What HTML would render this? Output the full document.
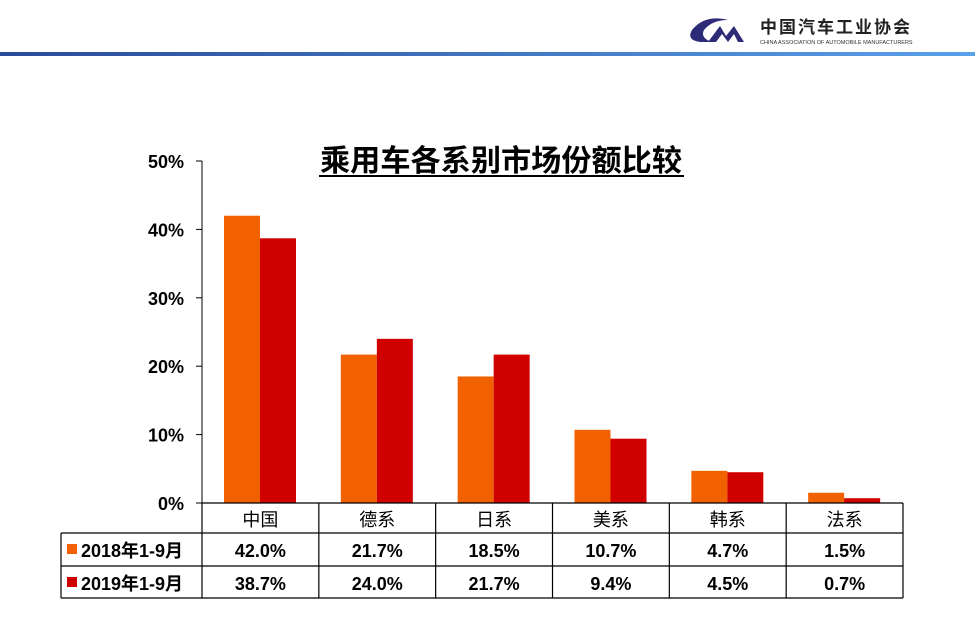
<!DOCTYPE html>
<html><head><meta charset="utf-8"><style>
body{margin:0;background:#fff;}
svg text{font-family:"Liberation Sans","Noto Sans CJK SC",sans-serif;}
</style></head><body>
<svg width="975" height="632" viewBox="0 0 975 632" xmlns="http://www.w3.org/2000/svg">
<defs><linearGradient id="hg" x1="0" x2="1"><stop offset="0" stop-color="#2a4a9a"/><stop offset="1" stop-color="#5aa0e8"/></linearGradient></defs>
<g>
<rect x="0" y="52" width="975" height="4" fill="url(#hg)"/>
<g>
<path d="M728 20 Q705 14 692 30 Q686 40 700 42 L712 42 Q700 38 704 30 Q712 20 728 20 Z" fill="#2d2a78"/>
<path d="M708 42 L720 26 L726 36 L734 26 L744 42 L738 42 L734 34 L728 42 L722 34 L716 42 Z" fill="#2d2a78"/>
<text x="760" y="33" font-size="17" font-weight="bold" fill="#222" letter-spacing="2">中国汽车工业协会</text>
<text x="760" y="44" font-size="5.5" fill="#333">CHINA ASSOCIATION OF AUTOMOBILE MANUFACTURERS</text>
</g></g>
<text x="501" y="171" font-size="30" font-weight="bold" text-anchor="middle" fill="#000" textLength="362" lengthAdjust="spacingAndGlyphs">乘用车各系别市场份额比较</text>
<line x1="319" y1="176" x2="684" y2="176" stroke="#000" stroke-width="2"/>
<g id="axis"></g>
<g id="bars"></g>
<g id="table"></g>
</svg>
<script>
const categories=["中国","德系","日系","美系","韩系","法系"];
const series2018=[42.0,21.7,18.5,10.7,4.7,1.5];
const series2019=[38.7,24.0,21.7,9.4,4.5,0.7];
const seriesNames=["2018年1-9月","2019年1-9月"];
const yTicks=[0,10,20,30,40,50];
const colors=["#f26100","#d10000"];
const NS="http://www.w3.org/2000/svg";
const x0=202,x1=903,yb=503,yt=161;
const cw=(x1-x0)/categories.length;
const y=v=>yb-(v/50)*(yb-yt);
function mk(tag,attrs,parent,txt){const e=document.createElementNS(NS,tag);for(const k in attrs)e.setAttribute(k,attrs[k]);if(txt!==undefined)e.textContent=txt;parent.appendChild(e);return e;}
const ax=document.getElementById('axis');
let l=mk('line',{x1:x0,y1:yt,x2:x0,y2:yb,stroke:'#000','stroke-width':1},ax);


yTicks.forEach(t=>{
 let tk=mk('line',{x1:x0-6,y1:y(t),x2:x0,y2:y(t),stroke:'#000'},ax);
 
 
 let tx=mk('text',{x:184,y:y(t)+7,'font-size':18,'font-weight':'bold','text-anchor':'end'},ax,t+'%');
 
 
});
const bg=document.getElementById('bars');
[series2018,series2019].forEach((s,si)=>{
 s.forEach((v,i)=>{
  let r=mk('rect',{x:x0+i*cw+22+si*36,y:y(v),width:36,height:yb-y(v),fill:colors[si]},bg);
  
  
 });
});
const tb=document.getElementById('table');
const rows=[503,533,566,598];
const lineAttrs={stroke:'#000','stroke-width':1.2};
mk('line',Object.assign({x1:x0,y1:503,x2:x1,y2:503},lineAttrs),tb);
[533,566,598].forEach(yy=>mk('line',Object.assign({x1:61,y1:yy,x2:x1,y2:yy},lineAttrs),tb));
mk('line',Object.assign({x1:61,y1:533,x2:61,y2:598},lineAttrs),tb);
for(let i=0;i<=categories.length;i++){mk('line',Object.assign({x1:x0+i*cw,y1:503,x2:x0+i*cw,y2:598},lineAttrs),tb);}
categories.forEach((c,i)=>{
 let t=mk('text',{x:x0+i*cw+cw/2,y:526,'font-size':18,'text-anchor':'middle'},tb,c);
 
 
});
[series2018,series2019].forEach((s,si)=>{
 const ry=rows[si+1]+24;
 let sw=mk('rect',{x:67,y:ry-13,width:10,height:10,fill:colors[si]},tb);
 
 
 let ln=mk('text',{x:81,y:ry,'font-size':18,'font-weight':'bold'},tb,seriesNames[si]);
 
 
 s.forEach((v,i)=>{
  let t=mk('text',{x:x0+i*cw+cw/2,y:ry,'font-size':18,'font-weight':'bold','text-anchor':'middle'},tb,v.toFixed(1)+'%');
  
  
 });
});
</script>
</body></html>
